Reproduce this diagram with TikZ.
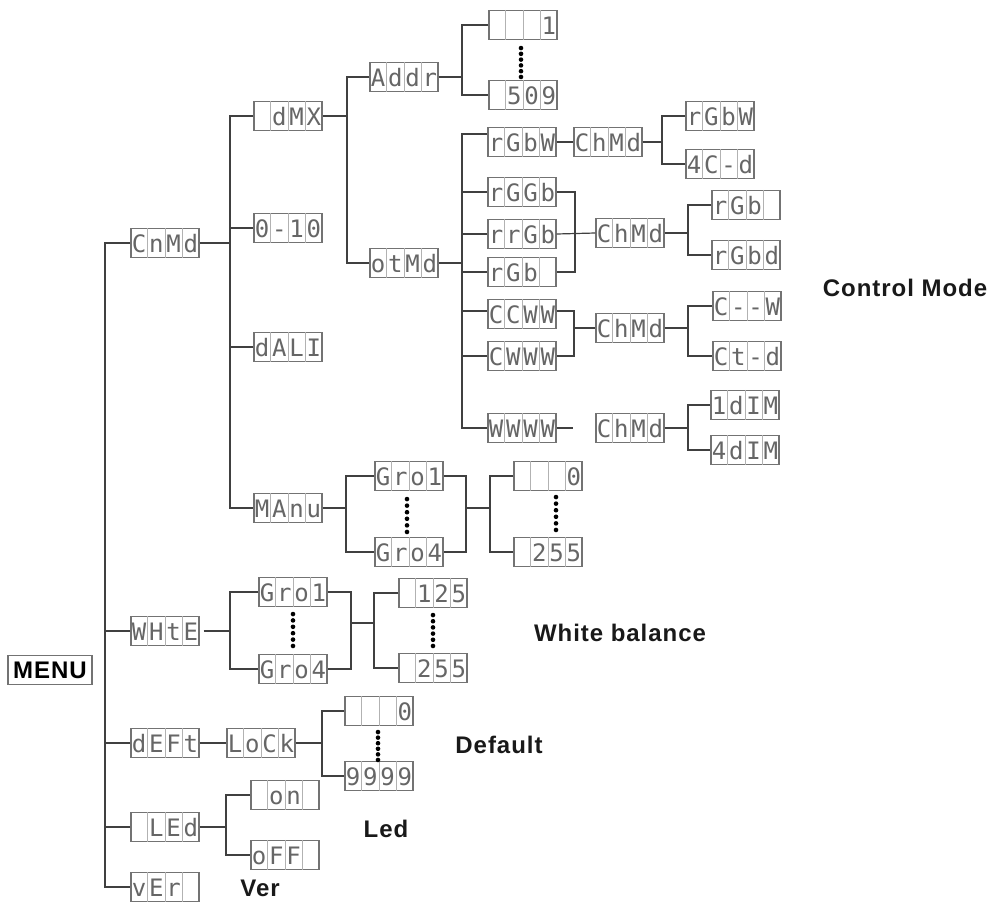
\documentclass[tikz,border=0pt]{standalone}
\usepackage{fontspec}
\setmainfont{Liberation Sans}
\newfontfamily\segfont{DejaVu Sans Mono}
\newfontfamily\labfont[LetterSpace=4]{Liberation Sans}
\usetikzlibrary{calc}
\tikzset{
 conn/.style={draw=black!75, line width=1.2pt},
 dispbox/.style={rectangle, draw=black!55, line width=1.1pt, fill=white, minimum width=68pt, minimum height=29pt, inner sep=0pt},
 celldiv/.style={draw=black!30, line width=0.8pt},
 dchar/.style={anchor=base, inner sep=0pt, font=\segfont\fontsize{24}{24}\selectfont, text=black!60},
 dotfill/.style={fill=black},
 lbl/.style={font=\labfont\bfseries\fontsize{24}{24}\selectfont, text=black!90, inner sep=0pt},
}
\newcommand\disp[6]{%
 \node[dispbox] (#1) at (#2) {};
 \foreach \f in {0.25,0.5,0.75}{\draw[celldiv] ($(#1.north west)!\f!(#1.north east)$) -- ($(#1.south west)!\f!(#1.south east)$);}
 \node[dchar] (#1-a) at ($(#1.south west)!0.125!(#1.south east)+(0,-6)$) {#3};
 \node[dchar] (#1-b) at ($(#1.south west)!0.375!(#1.south east)+(0,-6)$) {#4};
 \node[dchar] (#1-c) at ($(#1.south west)!0.625!(#1.south east)+(0,-6)$) {#5};
 \node[dchar] (#1-d) at ($(#1.south west)!0.875!(#1.south east)+(0,-6)$) {#6};
}
% #1 upper node, #2 lower node, #3 x offset, #4 top gap, #5 bottom gap
\newcommand\dotrow[5]{%
 \coordinate (#1-dp) at ([xshift=#3pt,yshift=-#4pt]#1.south);
 \coordinate (#1-dq) at ([xshift=#3pt,yshift=#5pt]#2.north);
 \foreach \t in {0,...,5}{\fill[dotfill] ($(#1-dp)!\t/5!(#1-dq)$) circle (2.3pt);}
}
\begin{document}
\begin{tikzpicture}[x=1pt,y=-1pt]
\useasboundingbox (0,0) rectangle (993,902);
% menu title
\node[rectangle, draw=black!55, line width=1.2pt, minimum width=84pt, minimum height=29pt, inner sep=0pt, font=\labfont\bfseries\fontsize{24}{24}\selectfont] (menu) at (50,670) {MENU};
% displays
\disp{cnmd}{165,243}{C}{n}{M}{d}
\disp{dmx}{288,116}{}{d}{M}{X}
\disp{zten}{288,228}{0}{-}{1}{0}
\disp{dali}{288,347}{d}{A}{L}{I}
\disp{manu}{288,508}{M}{A}{n}{u}
\disp{addr}{404,77}{A}{d}{d}{r}
\disp{aone}{523,25}{}{}{}{1}
\disp{a509}{523,95}{}{5}{0}{9}
\disp{otmd}{404,263}{o}{t}{M}{d}
\disp{rgbw}{522,142}{r}{G}{b}{W}
\disp{chmdA}{608,142}{C}{h}{M}{d}
\disp{rgbwo}{720,116}{r}{G}{b}{W}
\disp{fourcd}{720,164}{4}{C}{-}{d}
\disp{rggb}{522,192}{r}{G}{G}{b}
\disp{rrgb}{522,234}{r}{r}{G}{b}
\disp{rgb}{522,272}{r}{G}{b}{}
\disp{chmdB}{630,233}{C}{h}{M}{d}
\disp{rgbo}{746,205}{r}{G}{b}{}
\disp{rgbd}{746,255}{r}{G}{b}{d}
\disp{ccww}{522,314}{C}{C}{W}{W}
\disp{cwww}{522,356}{C}{W}{W}{W}
\disp{chmdC}{630,328}{C}{h}{M}{d}
\disp{ccw}{747,306}{C}{-}{-}{W}
\disp{ctd}{747,356}{C}{t}{-}{d}
\disp{wwww}{522,428}{W}{W}{W}{W}
\disp{chmdD}{630,428}{C}{h}{M}{d}
\disp{onedim}{745,405}{1}{d}{I}{M}
\disp{fourdim}{745,450}{4}{d}{I}{M}
\disp{mgroa}{409,476}{G}{r}{o}{1}
\disp{mgrob}{409,552}{G}{r}{o}{4}
\disp{mzero}{548,476}{}{}{}{0}
\disp{mmax}{548,552}{}{2}{5}{5}
\disp{white}{165,631}{W}{H}{t}{E}
\disp{wgroa}{293,592}{G}{r}{o}{1}
\disp{wgrob}{293,669}{G}{r}{o}{4}
\disp{wmin}{433,593}{}{1}{2}{5}
\disp{wmax}{433,668}{}{2}{5}{5}
\disp{deft}{165,743}{d}{E}{F}{t}
\disp{lock}{261,743}{L}{o}{C}{k}
\disp{dzero}{379,711}{}{}{}{0}
\disp{dmax}{379,776}{9}{9}{9}{9}
\disp{led}{165,827}{}{L}{E}{d}
\disp{on}{285,795}{}{o}{n}{}
\disp{off}{285,855}{o}{F}{F}{}
\disp{ver}{165,887}{v}{E}{r}{}
% trunk
\coordinate (tr) at (105,243);
\draw[conn] (cnmd.west) -- (tr) |- (ver.west);
\draw[conn] (white.west) -- (white.west -| tr);
\draw[conn] (deft.west) -- (deft.west -| tr);
\draw[conn] (led.west) -- (led.west -| tr);
% CnMd branch
\coordinate (ba) at (230,243);
\draw[conn] (cnmd.east) -- (ba);
\draw[conn] (dmx.west) -| (ba) |- (manu.west);
\draw[conn] (zten.west) -- (zten.west -| ba);
\draw[conn] (dali.west) -- (dali.west -| ba);
% dMX branch
\coordinate (bb) at (347,116);
\draw[conn] (dmx.east) -- (bb);
\draw[conn] (addr.west) -| (bb) |- (otmd.west);
% Addr
\coordinate (bc) at (462,77);
\draw[conn] (addr.east) -- (bc);
\draw[conn] (aone.west) -| (bc) |- (a509.west);
\dotrow{aone}{a509}{-2}{8}{3}
% otMd
\coordinate (bd) at (462,263);
\draw[conn] (otmd.east) -- (bd);
\draw[conn] ([yshift=8pt]rgbw.west) -| (bd) |- (wwww.west);
\draw[conn] (rggb.west) -- (rggb.west -| bd);
\draw[conn] (rrgb.west) -- (rrgb.west -| bd);
\draw[conn] (rgb.west) -- (rgb.west -| bd);
\draw[conn] ([yshift=3pt]ccww.west) -- ([yshift=3pt]ccww.west -| bd);
\draw[conn] (cwww.west) -- (cwww.west -| bd);
% rGbW chain
\draw[conn] (rgbw.east) -- (chmdA.west);
\coordinate (be) at (662,142);
\draw[conn] (chmdA.east) -- (be);
\draw[conn] (rgbwo.west) -| (be) |- (fourcd.west);
% rGGb group
\coordinate (bf) at (575,234);
\draw[conn] (rggb.east) -| (bf) |- (rgb.east);
\draw[conn] (rrgb.east) -- (chmdB.west);
\coordinate (bg) at (688,233);
\draw[conn] (chmdB.east) -- (bg);
\draw[conn] (rgbo.west) -| (bg) |- (rgbd.west);
% CCWW group
\coordinate (bh) at (574,328);
\draw[conn] ([yshift=3pt]ccww.east) -| (bh) |- (cwww.east);
\draw[conn] (bh) -- (chmdC.west);
\coordinate (bi) at (688,328);
\draw[conn] (chmdC.east) -- (bi);
\draw[conn] (ccw.west) -| (bi) |- (ctd.west);
% WWWW
\coordinate (wend) at (573,428);
\draw[conn] (wwww.east) -- (wend);
\coordinate (bj) at (688,428);
\draw[conn] (chmdD.east) -- (bj);
\draw[conn] (onedim.west) -| (bj) |- (fourdim.west);
% MAnu
\coordinate (bk) at (346,508);
\draw[conn] (manu.east) -- (bk);
\draw[conn] (mgroa.west) -| (bk) |- (mgrob.west);
\dotrow{mgroa}{mgrob}{-2}{8}{5}
\coordinate (bl) at (466,508);
\coordinate (bm) at (490,508);
\draw[conn] (mgroa.east) -| (bl) |- (mgrob.east);
\draw[conn] (bl) -- (bm);
\draw[conn] (mzero.west) -| (bm) |- (mmax.west);
\dotrow{mzero}{mmax}{8}{6}{7}
% White
\coordinate (bn) at (230,631);
\draw[conn] ([xshift=4pt]white.east) -- (bn);
\draw[conn] (wgroa.west) -| (bn) |- (wgrob.west);
\dotrow{wgroa}{wgrob}{0}{7}{8}
\coordinate (bo) at (351,623);
\coordinate (bp) at (374,623);
\draw[conn] (wgroa.east) -| (bo) |- (wgrob.east);
\draw[conn] (bo) -- (bp);
\draw[conn] (wmin.west) -| (bp) |- (wmax.west);
\dotrow{wmin}{wmax}{0}{7}{7}
% Default
\draw[conn] (deft.east) -- (lock.west);
\coordinate (bq) at (322,743);
\draw[conn] (lock.east) -- (bq);
\draw[conn] (dzero.west) -| (bq) |- (dmax.west);
\dotrow{dzero}{dmax}{-1}{6}{1}
% Led
\coordinate (br) at (226,827);
\draw[conn] (led.east) -- (br);
\draw[conn] (on.west) -| (br) |- (off.west);
% labels
\node[lbl] (lcm) at (905,288) {Control Mode};
\node[lbl] (lwb) at (620,633) {White balance};
\node[lbl] (ldf) at (499,745) {Default};
\node[lbl] (lld) at (386,829) {Led};
\node[lbl] (lvr) at (260,888) {Ver};
\end{tikzpicture}
\end{document}
